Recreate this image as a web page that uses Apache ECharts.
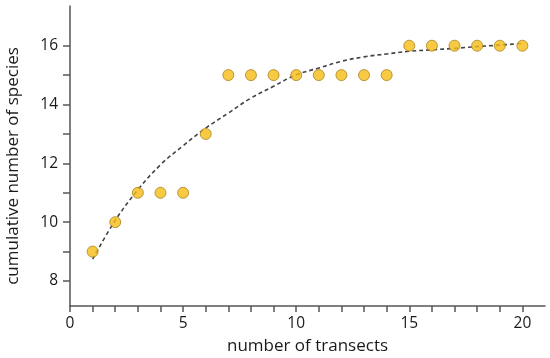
<!DOCTYPE html>
<html>
<head>
<meta charset="utf-8">
<script src="https://cdn.jsdelivr.net/npm/echarts@6/dist/echarts.min.js"></script>
<style>html,body{margin:0;padding:0;background:#fff}#c{width:550px;height:358px}</style>
</head>
<body>
<div id="c"></div>
<script>
var transects = [1,2,3,4,5,6,7,8,9,10,11,12,13,14,15,16,17,18,19,20];
var species   = [9,10,11,11,11,13,15,15,15,15,15,15,15,15,16,16,16,16,16,16];
var fitCurve  = [8.74,10.06,11.1,11.95,12.6,13.2,13.71,14.22,14.62,15.01,15.24,15.47,15.62,15.72,15.81,15.86,15.91,15.97,16.02,16.08];
var xTicks = [0,1,2,3,4,5,6,7,8,9,10,11,12,13,14,15,16,17,18,19,20];
var xLabels = [0,5,10,15,20];
var yTicks = [8,9,10,11,12,13,14,15,16];
var yLabels = [8,10,12,14,16];

var chart = echarts.init(document.getElementById('c'), null, {renderer:'canvas'});
var font = '"Open Sans", "Liberation Sans", sans-serif';
chart.setOption({
  animation: false,
  grid: {left: 70, right: 5, top: 6, bottom: 52, containLabel: false, outerBoundsMode: 'none'},
  xAxis: {
    type: 'value', min: 0, max: 21,
    name: 'number of transects', nameLocation: 'middle', nameGap: 32,
    nameTextStyle: {fontFamily: font, fontSize: 17, color: '#1a1a1a'},
    axisLine: {lineStyle: {color: '#555', width: 1.5}},
    axisTick: {show: true, length: 6, inside: false, customValues: xTicks, lineStyle: {color: '#555', width: 1.5}},
    axisLabel: {customValues: xLabels, fontFamily: font, fontSize: 15.5, color: '#1a1a1a', margin: 10},
    splitLine: {show: false}
  },
  yAxis: {
    type: 'value', min: 7.15, max: 17.35,
    name: 'cumulative number of species', nameLocation: 'middle', nameGap: 48,
    nameTextStyle: {fontFamily: font, fontSize: 17, color: '#1a1a1a', padding: [0, 20, 0, 0]},
    axisLine: {lineStyle: {color: '#555', width: 1.5}},
    axisTick: {show: true, length: 7, customValues: yTicks, lineStyle: {color: '#555', width: 1.5}},
    axisLabel: {customValues: yLabels, fontFamily: font, fontSize: 15.5, color: '#1a1a1a', margin: 12},
    splitLine: {show: false}
  },
  series: [
    {
      type: 'line', data: transects.map(function(x,i){return [x, fitCurve[i]];}),
      smooth: 0.4, showSymbol: false, symbol: 'none',
      lineStyle: {color: '#444', width: 1.6, type: [4,3]}, z: 2
    },
    {
      type: 'scatter', data: transects.map(function(x,i){return [x, species[i]];}),
      symbolSize: 11,
      itemStyle: {color: '#F6BB14', borderColor: '#A8841E', borderWidth: 1}, z: 3
    }
  ]
});
</script>
</body>
</html>
